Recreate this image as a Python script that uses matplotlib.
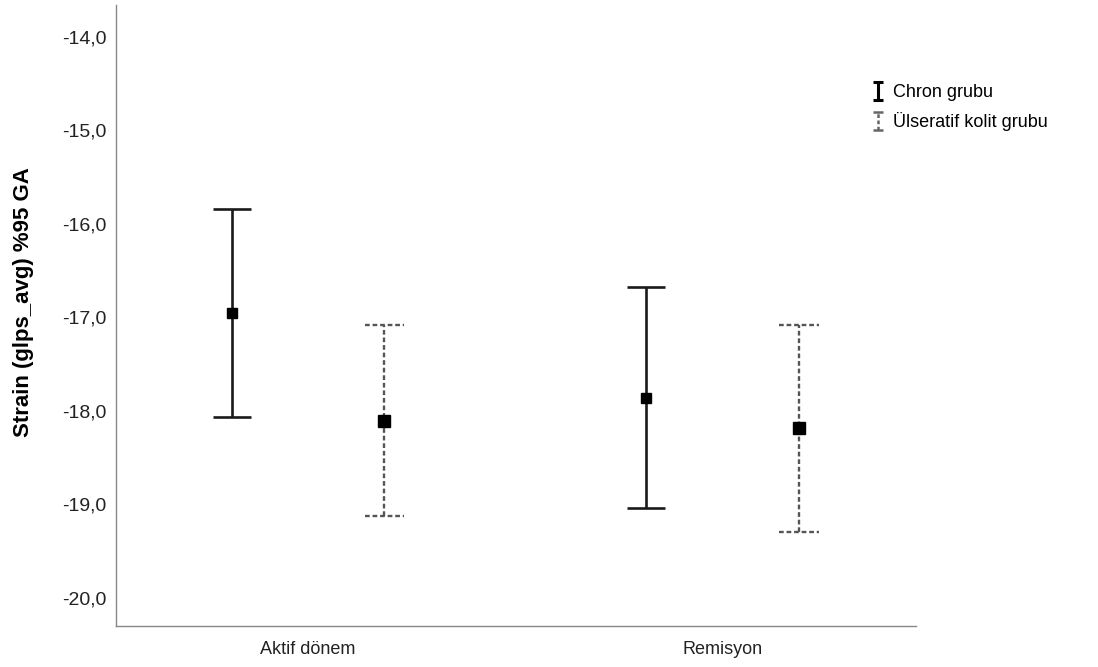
import matplotlib.pyplot as plt
import numpy as np
from matplotlib.ticker import FuncFormatter

plt.rcParams['font.family'] = ['Liberation Sans', 'DejaVu Sans']

categories = ['Aktif dönem', 'Remisyon']
groups = ['Chron grubu', 'Ülseratif kolit grubu']

# mean, lower and upper bound of the 95% CI per category
chron_mean = [-16.95, -17.86]
chron_low = [-18.07, -19.04]
chron_high = [-15.84, -16.68]

uc_mean = [-18.11, -18.18]
uc_low = [-19.12, -19.29]
uc_high = [-17.08, -17.08]

fig = plt.figure(figsize=(10.98, 6.67), dpi=100)
ax = fig.add_axes([0.1056, 0.0615, 0.7286, 0.931])

x = np.arange(len(categories))
offset = 0.184
dash = (0, (2.0, 1.2))

def draw(xpos, mean, low, high, **kw):
    mean = np.array(mean)
    yerr = [mean - np.array(low), np.array(high) - mean]
    return ax.errorbar(xpos, mean, yerr=yerr, fmt='s', linestyle='none', **kw)

draw(x - offset, chron_mean, chron_low, chron_high,
     color='black', ecolor='#1a1a1a', elinewidth=1.9, capsize=14,
     capthick=1.9, markersize=6.5, zorder=3)
c2 = draw(x + offset, uc_mean, uc_low, uc_high,
          color='black', ecolor='#555555', elinewidth=1.7, capsize=0,
          markersize=8, zorder=3)
for bar in c2[2]:
    bar.set_linestyle(dash)
# dashed caps for the second group
ax.hlines(uc_low + uc_high, np.tile(x + offset, 2) - 0.048,
          np.tile(x + offset, 2) + 0.048, colors='#555555', lw=1.7,
          linestyles=dash)

# legend handles (invisible errorbars)
h1 = ax.errorbar([np.nan], [np.nan], yerr=[1], fmt='none', ecolor='black',
                 elinewidth=2.2, capsize=3.5, capthick=2.2)
h2 = ax.errorbar([np.nan], [np.nan], yerr=[1], fmt='none', ecolor='#666666',
                 elinewidth=1.8, capsize=3.5, capthick=1.8)
h2[2][0].set_linestyle((0, (1.5, 1)))
fig.legend([h1, h2], groups, loc='upper left',
           bbox_to_anchor=(0.788, 0.885), frameon=False,
           fontsize=13, handlelength=0.6, handleheight=0.5,
           handletextpad=0.55, labelspacing=0.6, borderaxespad=0)

ax.set_xlim(-0.464, 1.467)
ax.set_ylim(-20.30, -13.66)
ax.set_yticks([-14, -15, -16, -17, -18, -19, -20])
ax.yaxis.set_major_formatter(FuncFormatter(lambda v, p: f'{v:.1f}'.replace('.', ',')))
ax.set_xticks(x)
ax.set_xticklabels(categories)
ax.tick_params(axis='both', length=0, colors='#222222')
ax.tick_params(axis='y', pad=7, labelsize=14)
ax.tick_params(axis='x', pad=11, labelsize=13)
ax.set_ylabel('Strain (glps_avg) %95 GA', fontsize=16, fontweight='bold')
ax.yaxis.set_label_coords(-0.103, 0.522)

for s in ['top', 'right']:
    ax.spines[s].set_visible(False)
for s in ['left', 'bottom']:
    ax.spines[s].set_color('#888888')
    ax.spines[s].set_linewidth(1.0)

fig.savefig('out.png', dpi=100)
